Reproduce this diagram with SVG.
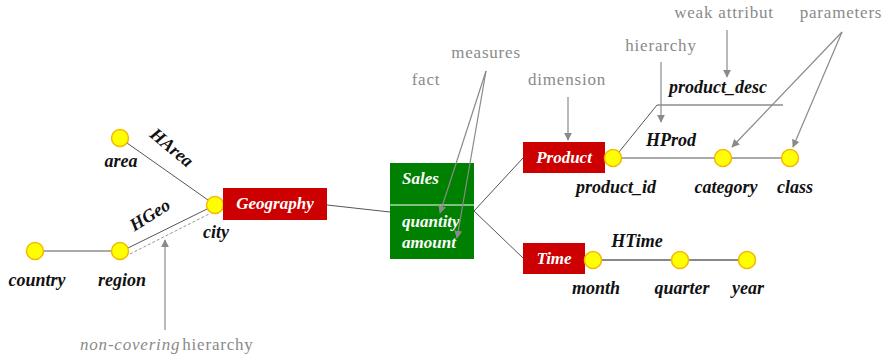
<svg xmlns="http://www.w3.org/2000/svg" width="884" height="354" viewBox="0 0 884 354" font-family="Liberation Serif, DejaVu Serif, Noto Serif, Times New Roman, Times, serif">
<style>
.lvl{fill:#FFFF00;stroke:#F5B800;stroke-width:1.5}
.dim{fill:#CC0000}
.fact{fill:#008000}
.wt{fill:#fff;font-style:italic;font-weight:bold;font-size:17px}
.bt{fill:#111;font-style:italic;font-weight:bold;font-size:18px;text-anchor:middle}
.gt{fill:#8a8a8a;font-size:17px;letter-spacing:0.8px;text-anchor:middle}
.ln{stroke:#555;stroke-width:1;fill:none}
.ln2{stroke:#888;stroke-width:2;fill:none}
.ar{stroke:#8a8a8a;stroke-width:1.2;fill:none;marker-end:url(#ah)}
</style>
<defs>
<marker id="ah" viewBox="0 0 10 10" refX="9" refY="5" markerWidth="8" markerHeight="8" orient="auto" markerUnits="userSpaceOnUse">
<path d="M0,0 L10,5 L0,10 z" fill="#8a8a8a"/>
</marker>
</defs>
<g id="connectors">
<line class="ln" x1="127" y1="143" x2="208" y2="200"/>
<line class="ln" x1="43" y1="251" x2="112" y2="251"/>
<line class="ln" x1="128" y1="248" x2="207" y2="209"/>
<line x1="130" y1="254" x2="209" y2="214" stroke="#999" stroke-width="1" stroke-dasharray="3,2"/>
<line class="ln" x1="327" y1="205" x2="390" y2="212"/>
<line class="ln" x1="474" y1="211" x2="523" y2="158"/>
<line class="ln" x1="474" y1="211" x2="523" y2="258"/>
<line class="ln" x1="621" y1="158" x2="715" y2="158"/>
<line class="ln" x1="731" y1="158" x2="782" y2="158"/>
<polyline class="ln" points="619,152 657,105 783,105"/>
<line class="ln2" x1="601" y1="260" x2="672" y2="260"/>
<line class="ln2" x1="688" y1="260" x2="739" y2="260"/>
</g>
<g id="area"><circle class="lvl" cx="120" cy="138" r="8.5"/><text class="bt" x="121" y="167">area</text></g>
<g id="country"><circle class="lvl" cx="35" cy="251" r="8.5"/><text class="bt" x="37" y="286">country</text></g>
<g id="region"><circle class="lvl" cx="120" cy="251" r="8.5"/><text class="bt" x="122" y="286">region</text></g>
<g id="city"><circle class="lvl" cx="215" cy="205" r="8.5"/><text class="bt" x="216" y="238">city</text></g>
<g id="HArea"><text class="bt" transform="translate(168,152) rotate(40)">HArea</text></g>
<g id="HGeo"><text class="bt" transform="translate(153,220) rotate(-32)">HGeo</text></g>
<g id="Geography"><rect class="dim" x="223" y="188" width="104" height="32"/><text class="wt" x="275" y="209" text-anchor="middle">Geography</text></g>
<g id="Sales"><rect class="fact" x="390" y="163" width="84" height="96"/><line x1="390" y1="205" x2="474" y2="205" stroke="#fff" stroke-width="1"/><text class="wt" x="402" y="184">Sales</text><text class="wt" x="402" y="227">quantity</text><text class="wt" x="402" y="248">amount</text></g>
<g id="Product"><rect class="dim" x="523" y="142" width="82" height="31"/><text class="wt" x="564" y="163" text-anchor="middle">Product</text></g>
<g id="Time"><rect class="dim" x="523" y="243" width="62" height="31"/><text class="wt" x="554" y="264" text-anchor="middle">Time</text></g>
<g id="product_id"><circle class="lvl" cx="613" cy="158" r="8.5"/><text class="bt" x="616" y="193">product_id</text></g>
<g id="category"><circle class="lvl" cx="723" cy="158" r="8.5"/><text class="bt" x="726" y="193">category</text></g>
<g id="class"><circle class="lvl" cx="790" cy="158" r="8.5"/><text class="bt" x="795" y="193">class</text></g>
<g id="product_desc"><text class="bt" x="718" y="93">product_desc</text></g>
<g id="HProd"><text class="bt" x="671" y="146">HProd</text></g>
<g id="HTime"><text class="bt" x="637" y="247">HTime</text></g>
<g id="month"><circle class="lvl" cx="593" cy="260" r="8.5"/><text class="bt" x="596" y="294">month</text></g>
<g id="quarter"><circle class="lvl" cx="680" cy="260" r="8.5"/><text class="bt" x="682" y="294">quarter</text></g>
<g id="year"><circle class="lvl" cx="747" cy="260" r="8.5"/><text class="bt" x="748" y="294">year</text></g>
<g id="annotations">
<text class="gt" x="486" y="58">measures</text>
<line class="ar" x1="486" y1="71" x2="440" y2="213"/>
<line class="ar" x1="486" y1="71" x2="457" y2="238"/>
<text class="gt" x="426" y="85">fact</text>
<text class="gt" x="567" y="85">dimension</text>
<line class="ar" x1="568" y1="97" x2="568" y2="140"/>
<text class="gt" x="661" y="51">hierarchy</text>
<line class="ar" x1="661" y1="62" x2="661" y2="122"/>
<text class="gt" x="724" y="18">weak attribut</text>
<line class="ar" x1="727" y1="30" x2="727" y2="77"/>
<text class="gt" x="841" y="18">parameters</text>
<line class="ar" x1="842" y1="32" x2="732" y2="147"/>
<line class="ar" x1="842" y1="32" x2="793" y2="147"/>
<line class="ar" x1="165" y1="330" x2="165" y2="240"/>
<text class="gt" x="80" y="350" style="text-anchor:start"><tspan font-style="italic">non-covering</tspan><tspan dx="2">hierarchy</tspan></text>
</g>
</svg>
